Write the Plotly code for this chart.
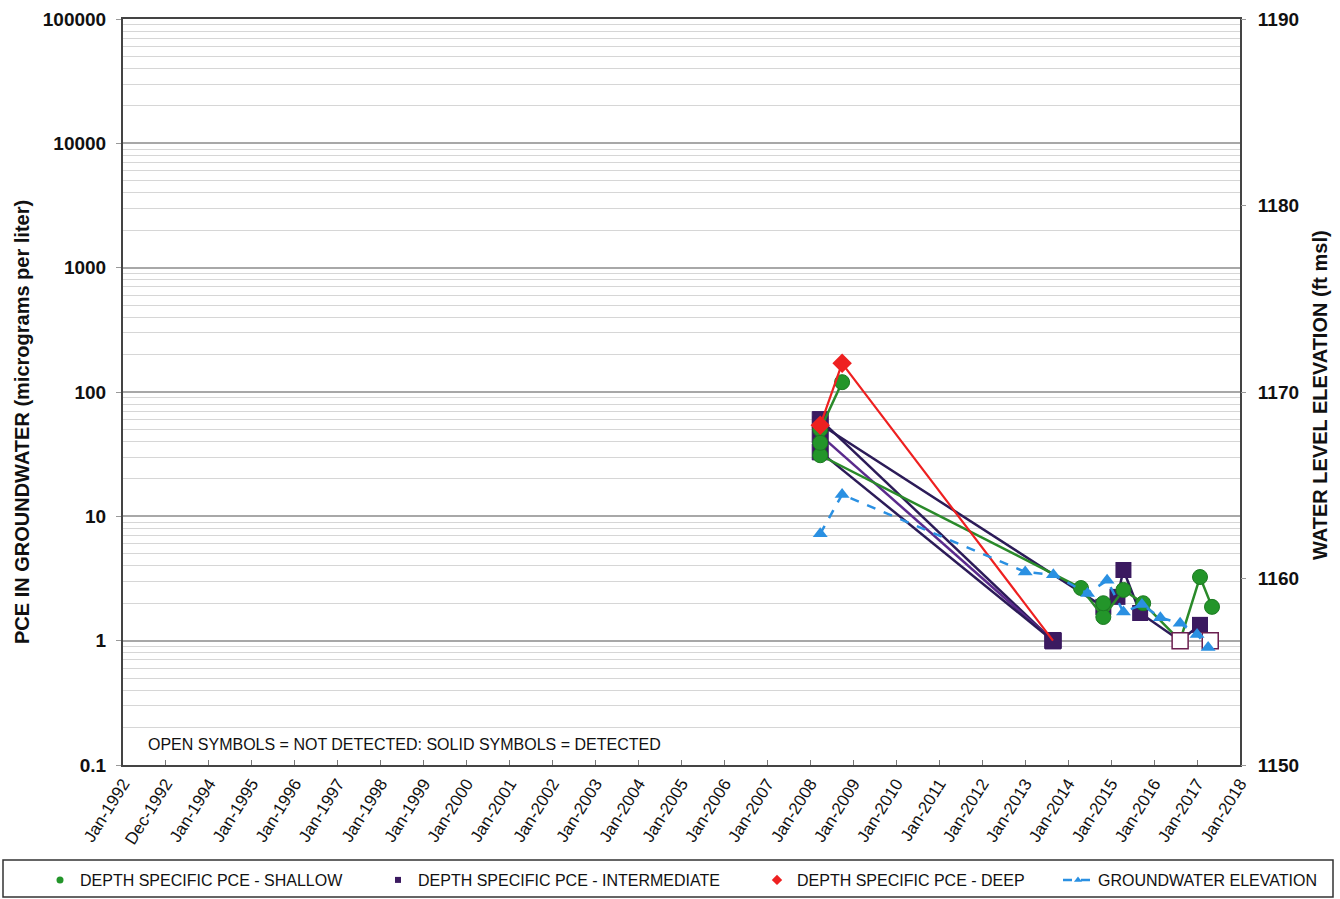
import plotly.graph_objects as go

# ---------------- data ----------------
# PCE concentrations (micrograms per liter) by sample date
shallow_a_dates = ["2008-03-25", "2008-09-27"]
shallow_a_pce = [50, 120]

shallow_b_dates = ["2008-03-25", "2014-04-20", "2014-10-27", "2015-04-16",
                   "2015-10-01", "2016-08-10", "2017-01-26", "2017-05-08"]
shallow_b_pce = [31, 2.65, 1.55, 2.56, 2.0, 1.0, 3.25, 1.87]
shallow_b_detected = [True, True, True, True, True, False, True, True]

shallow_c_dates = ["2008-03-25", None, "2014-10-27"]
shallow_c_pce = [39, None, 2.0]

inter_a_dates = ["2008-03-25", "2013-08-25"]
inter_a_pce = [60, 1.0]
inter_b_dates = ["2008-03-25", "2013-08-25"]
inter_b_pce = [45, 1.0]
inter_c_dates = ["2008-03-25", "2013-08-25"]
inter_c_pce = [33, 1.0]

inter_d_dates = ["2008-03-25", "2014-10-27", "2015-02-24", "2015-04-16",
                 "2015-09-05", "2016-08-10", "2017-01-26", "2017-04-23"]
inter_d_pce = [55, 1.87, 2.25, 3.7, 1.67, 1.0, 1.34, 1.0]
inter_d_detected = [True, True, True, True, True, False, True, False]

deep_dates = ["2008-03-25", "2008-09-27", "2013-08-25"]
deep_pce = [54, 170, 1.0]

# groundwater elevation (ft msl)
gw_dates = ["2008-03-25", "2008-09-27", "2013-01-01", "2013-08-28", "2014-06-15",
            "2014-11-28", "2015-04-16", "2015-09-20", "2016-02-24", "2016-08-10",
            "2017-01-01", "2017-04-05"]
gw_elev = [1162.4, 1164.5, 1160.35, 1160.2, 1159.2, 1159.9, 1158.2, 1158.6,
           1157.9, 1157.6, 1157.0, 1156.3]

# x-axis ticks
x_tick_dates = ["1992-01-01", "1992-12-31"] + [f"{y}-01-01" for y in range(1994, 2019)]
x_tick_labels = ["Jan-1992", "Dec-1992"] + [f"Jan-{y}" for y in range(1994, 2019)]

pce_major_ticks = [0.1, 1, 10, 100, 1000, 10000, 100000]
pce_tick_labels = ["0.1", "1", "10", "100", "1000", "10000", "100000"]
elev_ticks = [1150, 1160, 1170, 1180, 1190]

# ---------------- styling ----------------
GREEN = "#23952a"
GREEN_EDGE = "#1c7a22"
GREEN_LINE = "#2a8a2a"
PURPLE = "#3b1a60"
PURPLE_LINE = "#2c1b58"
PURPLE_LINE2 = "#5a2a8c"
RED = "#ee2020"
BLUE = "#2a90e2"
OPEN_EDGE = "#6b1f4f"
FONT = "Liberation Sans, Arial, sans-serif"

fig = go.Figure()


def markers(symbol, color, size, edge=None):
    return dict(symbol=symbol, color=color, size=size,
                line=dict(color=edge or color, width=1))


# intermediate
for dates, vals, lc in [(inter_a_dates, inter_a_pce, PURPLE_LINE),
                        (inter_b_dates, inter_b_pce, PURPLE_LINE2),
                        (inter_c_dates, inter_c_pce, PURPLE_LINE)]:
    fig.add_trace(go.Scatter(x=dates, y=vals, mode="lines+markers",
                             line=dict(color=lc, width=2.5),
                             marker=markers("square", PURPLE, 16),
                             showlegend=False))
fig.add_trace(go.Scatter(x=inter_d_dates, y=inter_d_pce, mode="lines+markers",
                         line=dict(color=PURPLE_LINE, width=2.5),
                         marker=dict(symbol="square", color=PURPLE, size=16,
                                     opacity=[1 if d else 0 for d in inter_d_detected]),
                         showlegend=False))

# shallow
fig.add_trace(go.Scatter(x=shallow_a_dates, y=shallow_a_pce, mode="lines+markers",
                         line=dict(color=GREEN_LINE, width=2.5),
                         marker=markers("circle", GREEN, 15, GREEN_EDGE), showlegend=False))
fig.add_trace(go.Scatter(x=shallow_b_dates, y=shallow_b_pce, mode="lines+markers",
                         line=dict(color=GREEN_LINE, width=2.5),
                         marker=dict(symbol="circle", color=GREEN, size=15,
                                     line=dict(color=GREEN_EDGE, width=1),
                                     opacity=[1 if d else 0 for d in shallow_b_detected]),
                         showlegend=False))
fig.add_trace(go.Scatter(x=shallow_c_dates, y=shallow_c_pce, mode="lines+markers",
                         line=dict(color=GREEN_LINE, width=2.5),
                         marker=markers("circle", GREEN, 15, GREEN_EDGE), showlegend=False))

# open squares (not detected) drawn on top
fig.add_trace(go.Scatter(
    x=[d for d, k in zip(inter_d_dates, inter_d_detected) if not k],
    y=[v for v, k in zip(inter_d_pce, inter_d_detected) if not k],
    mode="markers",
    marker=dict(symbol="square", color="white", size=16,
                line=dict(color=OPEN_EDGE, width=1.5)),
    showlegend=False))

# deep
fig.add_trace(go.Scatter(x=deep_dates, y=deep_pce, mode="lines",
                         line=dict(color=RED, width=2.2), showlegend=False))
fig.add_trace(go.Scatter(x=deep_dates[:2], y=deep_pce[:2], mode="markers",
                         marker=dict(symbol="diamond", color=RED, size=15),
                         showlegend=False))

# groundwater elevation on right axis
fig.add_trace(go.Scatter(x=gw_dates, y=gw_elev, mode="lines+markers", yaxis="y2",
                         line=dict(color=BLUE, width=2.5, dash="dash"),
                         marker=dict(symbol="triangle-up", color=BLUE, size=13),
                         showlegend=False))

# legend entries
legend_font = dict(family=FONT, size=16, color="#111")
fig.add_trace(go.Scatter(x=[None], y=[None], mode="markers", name="DEPTH SPECIFIC PCE - SHALLOW",
                         marker=dict(symbol="circle", color=GREEN, size=7), legend="legend"))
fig.add_trace(go.Scatter(x=[None], y=[None], mode="markers", name="DEPTH SPECIFIC PCE - INTERMEDIATE",
                         marker=dict(symbol="square", color=PURPLE, size=6), legend="legend2"))
fig.add_trace(go.Scatter(x=[None], y=[None], mode="markers", name="DEPTH SPECIFIC PCE - DEEP",
                         marker=dict(symbol="diamond", color=RED, size=8), legend="legend3"))
fig.add_trace(go.Scatter(x=[None], y=[None], mode="lines+markers", name="GROUNDWATER ELEVATION",
                         line=dict(color=BLUE, width=2.5, dash="dash"),
                         marker=dict(symbol="triangle-up", color=BLUE, size=7),
                         yaxis="y2", legend="legend4"))

# plot area spans x 123..1240 px and y 19..765 px
L, R, T, B = 123, 1240, 19, 765
W, H = R - L, B - T


def px_x(p):
    return (p - L) / W


def px_y(p):
    return (B - p) / H


minor_vals = [m * 10 ** e for e in range(-1, 5) for m in range(2, 10)]


def legend_at(x_px):
    return dict(orientation="h", x=px_x(x_px), y=px_y(880), xanchor="left",
                yanchor="middle", font=legend_font, bgcolor="rgba(0,0,0,0)")


fig.update_layout(
    width=1340, height=899,
    margin=dict(l=L, r=1340 - R, t=T, b=899 - B, autoexpand=False),
    paper_bgcolor="white", plot_bgcolor="white",
    font=dict(family=FONT, color="#111"),
    xaxis=dict(type="date", range=["1992-01-01", "2018-01-01"],
               tickvals=x_tick_dates, ticktext=x_tick_labels,
               tickangle=-58, tickfont=dict(size=17, color="#111"),
               showgrid=False, showline=True, linecolor="#444", linewidth=2,
               mirror=True, ticks="inside", ticklen=5, tickcolor="#777",
               zeroline=False, automargin=False),
    yaxis=dict(type="log", range=[-1, 5], tickvals=pce_major_ticks,
               ticktext=[f"<b>{t}</b>" for t in pce_tick_labels],
               tickfont=dict(size=19, color="#111"), ticklabelstandoff=6,
               showgrid=True, gridcolor="#a8a8a8", gridwidth=1.5,
               minor=dict(tickvals=minor_vals, showgrid=True, gridcolor="#d6d6d6",
                          gridwidth=1, ticks=""),
               showline=True, linecolor="#444", linewidth=2, mirror=True,
               ticks="outside", ticklen=5, tickcolor="#999", zeroline=False,
               automargin=False),
    yaxis2=dict(overlaying="y", side="right", range=[1150, 1190], tickvals=elev_ticks,
                ticktext=[f"<b>{t}</b>" for t in elev_ticks],
                tickfont=dict(size=19, color="#111"), ticklabelstandoff=8, showgrid=False,
                ticks="outside", ticklen=5, tickcolor="#999", zeroline=False,
                automargin=False),
    legend=legend_at(40),
    legend2=legend_at(378),
    legend3=legend_at(757),
    legend4=legend_at(1058),
    shapes=[dict(type="rect", xref="paper", yref="paper",
                 x0=px_x(3), x1=px_x(1333), y0=px_y(897), y1=px_y(860),
                 line=dict(color="#333", width=1.5), fillcolor="rgba(0,0,0,0)",
                 layer="above")],
    annotations=[
        dict(text="OPEN SYMBOLS = NOT DETECTED: SOLID SYMBOLS = DETECTED",
             xref="paper", yref="paper", x=px_x(146), y=px_y(744),
             xanchor="left", yanchor="middle", showarrow=False,
             font=dict(size=16, color="#111")),
        dict(text="<b>PCE IN GROUNDWATER (micrograms per liter)</b>",
             xref="paper", yref="paper", x=px_x(22), y=px_y(422),
             xanchor="center", yanchor="middle", textangle=-90, showarrow=False,
             font=dict(size=20, color="#111")),
        dict(text="<b>WATER LEVEL ELEVATION (ft msl)</b>",
             xref="paper", yref="paper", x=px_x(1320), y=px_y(395),
             xanchor="center", yanchor="middle", textangle=-90, showarrow=False,
             font=dict(size=20, color="#111")),
    ],
)

fig.write_html("out.html")
